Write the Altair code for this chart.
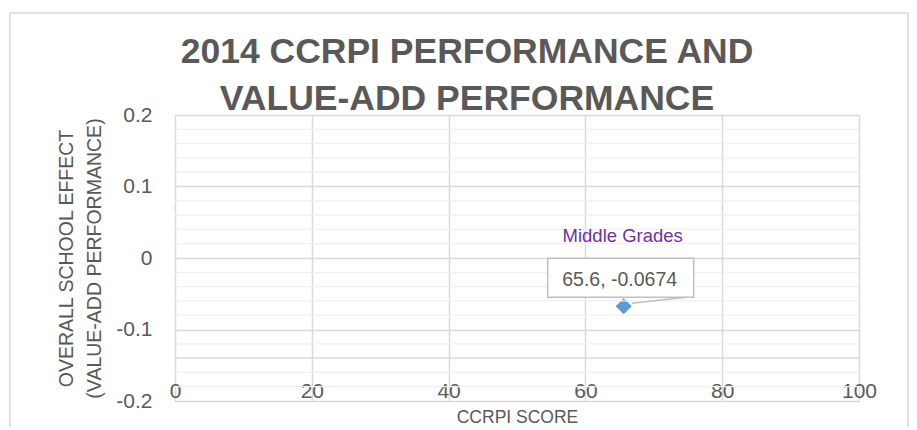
import altair as alt
import pandas as pd

# ---- data ----
ccrpi_score = [65.6]
school_effect = [-0.0674]
series_name = ["Middle Grades"]

x_ticks = [0, 20, 40, 60, 80, 100]
y_ticks = [-0.2, -0.1, 0, 0.1, 0.2]
y_minor = [-0.18, -0.16, -0.12, -0.08, -0.06, -0.04, -0.02,
           0.02, 0.04, 0.06, 0.08, 0.12, 0.14, 0.16, 0.18]
h_axis_cross = [-0.14]

title_lines = ["2014 CCRPI PERFORMANCE AND", "VALUE-ADD PERFORMANCE"]
x_title = "CCRPI SCORE"
y_title = ["OVERALL SCHOOL EFFECT", "(VALUE-ADD PERFORMANCE)"]

FONT = "Liberation Sans"
GREY = "#595959"
GRID = "#d9d9d9"

pts = pd.DataFrame({
    "score": ccrpi_score,
    "effect": school_effect,
    "series": series_name,
    "label": [f"{s}, {e}" for s, e in zip(ccrpi_score, school_effect)],
})
minor_df = pd.DataFrame({"v": y_minor})
cross_df = pd.DataFrame({"v": h_axis_cross})
frame_df = pd.DataFrame({"k": [0]})

xs = alt.Scale(domain=[0, 100], nice=False, zero=False)
ys = alt.Scale(domain=[-0.2, 0.2], nice=False, zero=False)

x_axis = alt.Axis(
    values=x_ticks, title=x_title, grid=True, gridColor=GRID, gridWidth=1.5,
    domain=False, ticks=False, labelFlush=False, labelBaseline="alphabetic",
    labelPadding=-3.5, labelFont=FONT, labelFontSize=21, labelColor=GREY,
    titleFont=FONT, titleFontSize=17.5, titleFontWeight="normal",
    titleColor=GREY, titleBaseline="alphabetic", titleY=21,
)
y_axis = alt.Axis(
    values=y_ticks, title=y_title, grid=True, gridColor=GRID, gridWidth=1.5,
    domain=False, ticks=False, labelPadding=23, labelFont=FONT,
    labelFontSize=21, labelColor=GREY, labelExpr="toString(datum.value)",
    titleFont=FONT, titleFontSize=19.5, titleFontWeight="normal",
    titleColor=GREY, titleAngle=270, titleBaseline="alphabetic",
    titleLineHeight=28, titleX=-103, titleY=143,
)

x_enc = alt.X("score:Q", scale=xs, axis=x_axis)
y_enc = alt.Y("effect:Q", scale=ys, axis=y_axis)

minor = alt.Chart(minor_df).mark_rule(color="#f0f0f0", strokeWidth=1.2).encode(
    y=alt.Y("v:Q", scale=ys, axis=y_axis)
)
cross = alt.Chart(cross_df).mark_rule(color=GRID, strokeWidth=1.5).encode(
    y=alt.Y("v:Q", scale=ys, axis=y_axis)
)

base = alt.Chart(pts)

points = base.mark_point(shape="diamond", filled=True, size=260,
                         color="#5B9BD5", opacity=1).encode(x=x_enc, y=y_enc)

box = base.mark_rect(fill="white", stroke="#bfbfbf", strokeWidth=1.5,
                     xOffset=-76, x2Offset=70, yOffset=-48, y2Offset=-9).encode(
    x=x_enc, x2="score:Q", y=y_enc, y2="effect:Q",
)
leader = base.mark_rule(color="#bfbfbf", strokeWidth=1.5,
                        xOffset=8, x2Offset=63, yOffset=-3, y2Offset=-9).encode(
    x=x_enc, x2="score:Q", y=y_enc, y2="effect:Q",
)
box_text = base.mark_text(font=FONT, fontSize=19.5, color=GREY, align="center",
                          baseline="alphabetic", dx=-4, dy=-20).encode(
    x=x_enc, y=y_enc, text="label:N"
)
series_text = base.mark_text(font=FONT, fontSize=18.5, color="#7030A0",
                             align="center", baseline="alphabetic",
                             dx=-1, dy=-64).encode(
    x=x_enc, y=y_enc, text="series:N"
)

frame = alt.Chart(frame_df).mark_rect(fill=None, stroke=GRID, strokeWidth=1.5).encode(
    x=alt.value(-165), x2=alt.value(733), y=alt.value(-102), y2=alt.value(330)
)

chart = alt.layer(
    points, minor, cross, box, leader, box_text, series_text, frame
).properties(
    width=684, height=286,
    autosize=alt.AutoSizeParams(type="none"),
    padding={"left": 167, "top": 107, "right": 50, "bottom": 26},
    title=alt.TitleParams(
        text=title_lines, font=FONT, fontSize=35.5, fontWeight="bold",
        color=GREY, lineHeight=47, anchor="middle", frame="group", dx=-50,
        offset=-105,
    ),
).configure_view(stroke=None)

chart.save("out.html", embed_options={"renderer": "svg", "actions": False})
